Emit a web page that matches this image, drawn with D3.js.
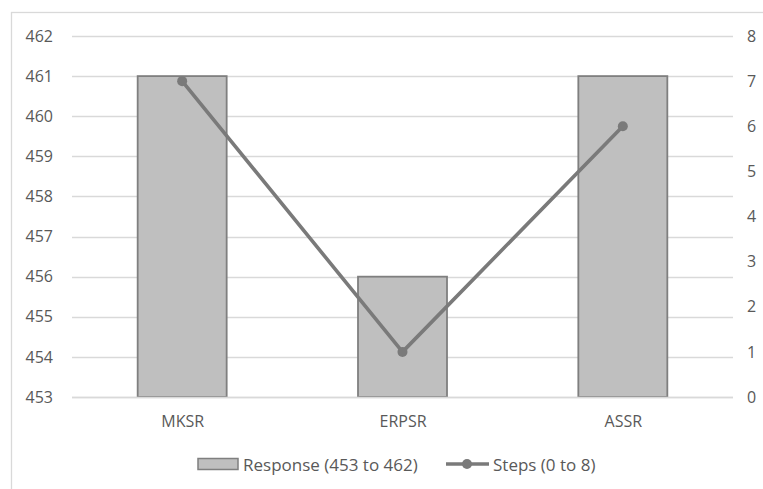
<!DOCTYPE html>
<html>
<head>
<meta charset="utf-8">
<script src="https://cdn.jsdelivr.net/npm/d3@7"></script>
<style>
  html, body { margin: 0; padding: 0; background: #fff; }
  svg { display: block; }
  svg text { font-family: "Open Sans", "Noto Sans", sans-serif; }
</style>
</head>
<body>
<svg id="chart" width="763" height="489"></svg>
<script>
// Categories and the two series
const categories = ["MKSR", "ERPSR", "ASSR"];
const responseValues = [461, 456, 461];
const stepValues = [7, 1, 6];
const leftTicks = [453, 454, 455, 456, 457, 458, 459, 460, 461, 462];
const rightTicks = [0, 1, 2, 3, 4, 5, 6, 7, 8];
const legendLabels = ["Response (453 to 462)", "Steps (0 to 8)"];

const svg = d3.select("#chart");
const plot = { left: 72, right: 733, top: 36, bottom: 397 };
const textColor = "#595959";

// Outer chart frame
svg.append("rect")
  .attr("x", 11.5).attr("y", 12.5)
  .attr("width", 800).attr("height", 500)
  .attr("fill", "#fff").attr("stroke", "#d9d9d9").attr("stroke-width", 1.3);

const xCenter = d3.scalePoint().domain(categories).range([plot.left, plot.right]).padding(0.5);
const yLeft = d3.scaleLinear().domain([453, 462]).range([plot.bottom, plot.top]);
const yRight = d3.scaleLinear().domain([0, 8]).range([plot.bottom, plot.top]);

function styleAxis(g, size) {
  g.select(".domain").remove();
  g.attr("font-family", null).attr("font-size", null);
  g.selectAll("text").attr("fill", textColor).style("font-size", size + "px");
}

// Horizontal gridlines
svg.append("g").selectAll("line").data(leftTicks).join("line")
  .attr("x1", plot.left).attr("x2", plot.right)
  .attr("y1", d => Math.round(yLeft(d)) + 0.5).attr("y2", d => Math.round(yLeft(d)) + 0.5)
  .attr("stroke", "#d9d9d9").attr("stroke-width", 1.3);

// Left axis
svg.append("g").attr("transform", `translate(${plot.left},0)`)
  .call(d3.axisLeft(yLeft).tickValues(leftTicks).tickSize(0).tickPadding(19).tickFormat(d3.format("d")))
  .call(g => styleAxis(g, 16));

// Right axis
svg.append("g").attr("transform", `translate(${plot.right},0)`)
  .call(d3.axisRight(yRight).tickValues(rightTicks).tickSize(0).tickPadding(14).tickFormat(d3.format("d")))
  .call(g => styleAxis(g, 16));

// Bars
const barW = 89;
svg.append("g").selectAll("rect").data(categories).join("rect")
  .attr("x", (d) => xCenter(d) - barW / 2)
  .attr("y", (d, i) => yLeft(responseValues[i]))
  .attr("width", barW)
  .attr("height", (d, i) => plot.bottom - yLeft(responseValues[i]))
  .attr("fill", "#bfbfbf").attr("stroke", "#7f7f7f").attr("stroke-width", 1.8);

// Baseline over bars
svg.append("line")
  .attr("x1", plot.left).attr("x2", plot.right)
  .attr("y1", Math.round(plot.bottom) + 0.5).attr("y2", Math.round(plot.bottom) + 0.5)
  .attr("stroke", "#d9d9d9").attr("stroke-width", 1.3);

// Category axis labels
svg.append("g").attr("transform", `translate(0,${plot.bottom})`)
  .call(d3.axisBottom(xCenter).tickSize(0).tickPadding(19))
  .call(g => styleAxis(g, 16));

// Steps line with markers
const lineColor = "#7a7a7a";
const line = d3.line().x((d, i) => xCenter(categories[i])).y(d => yRight(d));
svg.append("path").datum(stepValues)
  .attr("d", line).attr("fill", "none")
  .attr("stroke", lineColor).attr("stroke-width", 3.6).attr("stroke-linejoin", "round");
svg.append("g").selectAll("circle").data(stepValues).join("circle")
  .attr("cx", (d, i) => xCenter(categories[i])).attr("cy", d => yRight(d))
  .attr("r", 5).attr("fill", lineColor);

// Legend
const legend = svg.append("g").style("font-size", "17px");
legend.append("rect").attr("x", 198).attr("y", 458.5).attr("width", 40).attr("height", 11)
  .attr("fill", "#bfbfbf").attr("stroke", "#7f7f7f").attr("stroke-width", 1.5);
legend.append("text").attr("x", 243).attr("y", 470.5).attr("fill", textColor).text(legendLabels[0]);
legend.append("line").attr("x1", 446).attr("x2", 489).attr("y1", 464).attr("y2", 464)
  .attr("stroke", lineColor).attr("stroke-width", 3.6);
legend.append("circle").attr("cx", 467).attr("cy", 464).attr("r", 5).attr("fill", lineColor);
legend.append("text").attr("x", 493).attr("y", 470.5).attr("fill", textColor).text(legendLabels[1]);
</script>
</body>
</html>
